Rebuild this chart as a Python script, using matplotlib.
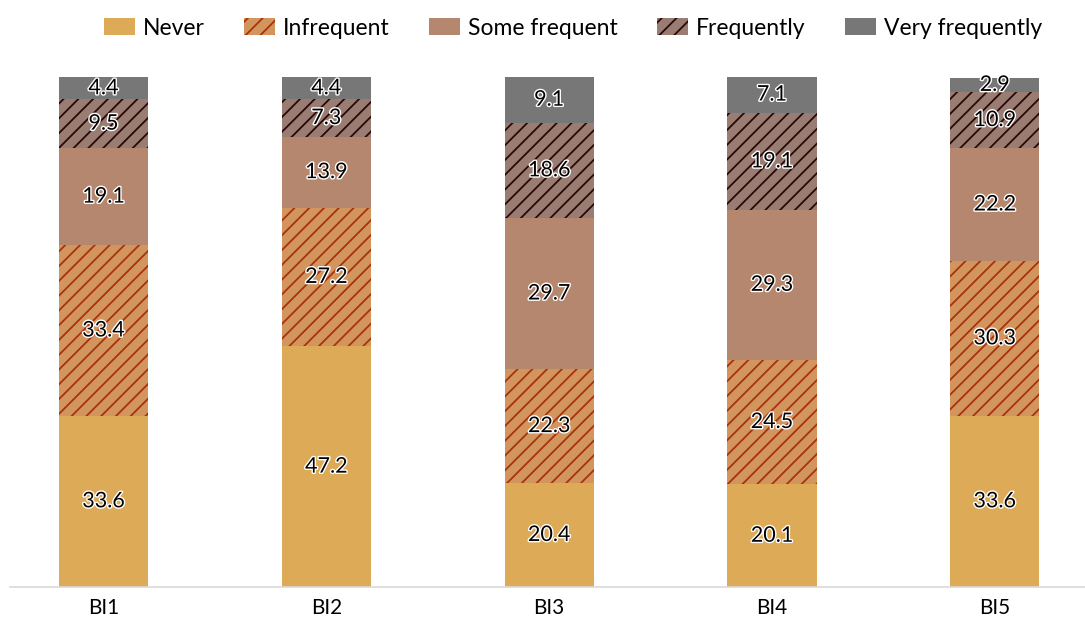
import numpy as np
import matplotlib
matplotlib.use("Agg")
import matplotlib.pyplot as plt
import matplotlib.patheffects as pe

# render at 133 dpi so the hatch spacing comes out close to the original
DPI = 133
W, H = 1085, 619


def pt(size100):
    # font size given as if the figure were at 100 dpi
    return size100 * 100 / DPI


plt.rcParams['font.family'] = ['Lato', 'DejaVu Sans']
plt.rcParams['hatch.linewidth'] = pt(1.3)

# data
categories = ["BI1", "BI2", "BI3", "BI4", "BI5"]
series_names = ["Never", "Infrequent", "Some frequent", "Frequently", "Very frequently"]
never = [33.6, 47.2, 20.4, 20.1, 33.6]
infrequent = [33.4, 27.2, 22.3, 24.5, 30.3]
some_frequent = [19.1, 13.9, 29.7, 29.3, 22.2]
frequently = [9.5, 7.3, 18.6, 19.1, 10.9]
very_frequently = [4.4, 4.4, 9.1, 7.1, 2.9]

series = [never, infrequent, some_frequent, frequently, very_frequently]
face_colors = ["#DDAA57", "#D3955E", "#B5876E", "#9A7D72", "#777777"]
hatch_colors = ["#DDAA57", "#A8320E", "#B5876E", "#2A0808", "#777777"]
hatches = [None, "///", None, "///", None]

fig = plt.figure(figsize=(W / DPI, H / DPI), dpi=DPI)
ax = fig.add_axes([10 / W, (H - 587) / H, 1075 / W, (587 - 77) / H])

x = np.arange(len(categories))
bottom = np.zeros(len(categories))
handles = []
for vals, name, fc, hc, h in zip(series, series_names, face_colors, hatch_colors, hatches):
    vals = np.array(vals)
    bars = ax.bar(x, vals, width=0.4, bottom=bottom, color=fc, edgecolor=hc,
                  linewidth=0, hatch=h, label=name)
    handles.append(bars)
    for xi, b, v in zip(x, bottom, vals):
        ax.text(xi, b + v / 2, f"{v:.1f}", ha="center", va="center", fontsize=pt(15.5),
                color="black",
                path_effects=[pe.withStroke(linewidth=pt(2.0), foreground="white")])
    bottom += vals

ax.set_xlim(-0.42, 4.405)
ax.set_ylim(0, 100)
ax.set_yticks([])
ax.set_xticks(x)
ax.set_xticklabels(categories, fontsize=pt(15))
ax.tick_params(axis="x", length=0, pad=pt(8))
for s in ["top", "right", "left"]:
    ax.spines[s].set_visible(False)
ax.spines["bottom"].set_color("#D9D9D9")
ax.spines["bottom"].set_linewidth(pt(1.2))

fig.legend(handles=handles, labels=series_names, loc="upper center",
           bbox_to_anchor=(0.528, 1.005), ncol=5, frameon=False, fontsize=pt(16.5),
           handlelength=1.35, handleheight=0.75, columnspacing=1.72, handletextpad=0.35)

fig.savefig("out.png", dpi=DPI)
